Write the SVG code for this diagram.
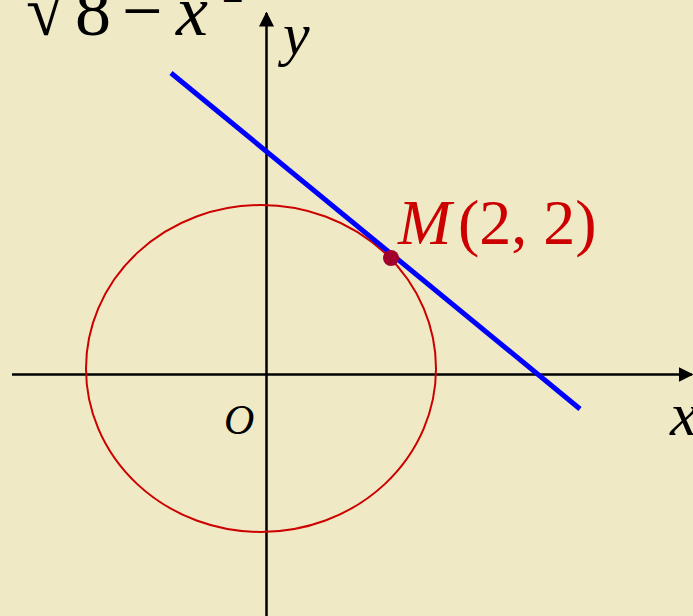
<svg xmlns="http://www.w3.org/2000/svg" width="693" height="616" viewBox="0 0 693 616">
<defs>
<style>
.t{font-family:"Liberation Serif","Times New Roman",serif;}
.i{font-style:italic;}
.ax{stroke:#000;stroke-width:2.5;fill:none;}
</style>
<marker id="ah" viewBox="0 0 10 10" refX="9" refY="5" markerWidth="6" markerHeight="6" markerUnits="strokeWidth" orient="auto">
<path d="M0,0 L10,5 L0,10 z" fill="#000"/>
</marker>
</defs>
<rect width="693" height="616" fill="#EFEAC5"/>
<g id="formula">
<text class="t" font-size="72" y="35" fill="#000"><tspan x="26">√</tspan><tspan x="75">8</tspan><tspan x="122">−</tspan><tspan x="176" class="i">x</tspan><tspan x="222" y="2" font-size="44">2</tspan></text>
</g>
<g id="connectors">
<line id="x-axis" class="ax" x1="12" y1="374.5" x2="692" y2="374.5" marker-end="url(#ah)"/>
<line id="y-axis" class="ax" x1="266.5" y1="616" x2="266.5" y2="13" marker-end="url(#ah)"/>
</g>
<g id="circle">
<ellipse cx="261" cy="368.5" rx="175" ry="163.5" fill="none" stroke="#CC0000" stroke-width="2"/>
</g>
<g id="tangent">
<line x1="171" y1="73" x2="580" y2="409" stroke="#0000FF" stroke-width="5"/>
</g>
<g id="point-M">
<circle cx="391" cy="258" r="8" fill="#A0002A"/>
<text class="t" font-size="64" y="244" fill="#CC0000"><tspan x="398" class="i">M</tspan><tspan x="458">(2, 2)</tspan></text>
</g>
<g id="labels">
<text class="t i" font-size="60" x="283" y="54">y</text>
<text class="t i" font-size="62" x="670" y="435">x</text>
<text class="t i" font-size="42" x="224" y="434">O</text>
</g>
</svg>
